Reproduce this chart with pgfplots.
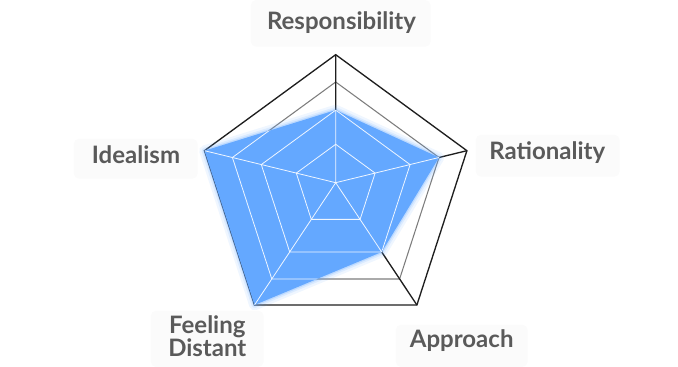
\documentclass[border=0pt]{standalone}
\usepackage{pgfplots}
\pgfplotsset{compat=1.18}
\usepackage{fontspec}
\setmainfont{Lato}
\definecolor{radarblue}{RGB}{100,168,255}
\definecolor{labelgray}{RGB}{90,90,90}
\definecolor{boxgray}{RGB}{251,251,251}
\definecolor{gridgray}{RGB}{125,125,125}
\definecolor{griddark}{RGB}{30,30,30}
\begin{document}
\begin{tikzpicture}[lbl/.style={font=\bfseries\fontsize{18}{21}\selectfont, text=labelgray, anchor=base, inner sep=0pt}]
\begin{axis}[hide axis, x=0.75pt, y=0.75pt,
  xmin=-335.7, xmax=342.3, ymin=-184.3, ymax=182.7,
  clip=false, unbounded coords=jump]
\path (axis cs:-335.7,-184.3) rectangle (axis cs:342.3,182.7);
% label boxes
\fill[boxgray, rounded corners=4pt] (axis cs:-85,136) rectangle (axis cs:95,182.7);
\fill[boxgray, rounded corners=4pt] (axis cs:-262,4) rectangle (axis cs:-138,44);
\fill[boxgray, rounded corners=4pt] (axis cs:140,6) rectangle (axis cs:284,48);
\fill[boxgray, rounded corners=4pt] (axis cs:-185,-184.3) rectangle (axis cs:-72,-128);
\fill[boxgray, rounded corners=4pt] (axis cs:60,-184.3) rectangle (axis cs:192,-142);
\node[lbl] at (axis cs:5.8,153.4) {Responsibility};
\node[lbl] at (axis cs:-199.7,19.4) {Idealism};
\node[lbl] at (axis cs:211.6,22.7) {Rationality};
\node[lbl] at (axis cs:126,-164.6) {Approach};
\node[lbl] at (axis cs:-128.4,-151.3) {Feeling};
\node[lbl] at (axis cs:-128.4,-174) {Distant};
% grid outside colours
\addplot[gridgray, line width=0.7pt, line join=miter] coordinates {(0,38.4) (39.4,9.6) (24.4,-36.7) (-24.4,-36.7) (-39.4,9.6)} -- cycle;
\addplot[gridgray, line width=0.7pt, line join=miter] coordinates {(0,72.6) (74.4,18.1) (46.0,-69.3) (-46.0,-69.3) (-74.4,18.1)} -- cycle;
\addplot[gridgray, line width=0.8pt, line join=miter] coordinates {(0,100.7) (103.3,25.2) (63.9,-96.3) (-63.9,-96.3) (-103.3,25.2)} -- cycle;
\addplot[griddark, line width=1pt, line join=miter] coordinates {(0,128) (131.2,32) (81.2,-122.3) (-81.2,-122.3) (-131.2,32)} -- cycle;
\addplot[griddark, line width=1pt] coordinates {(0,0) (0,128) (nan,nan) (0,0) (131.2,32) (nan,nan) (0,0) (81.2,-122.3) (nan,nan) (0,0) (-81.2,-122.3) (nan,nan) (0,0) (-131.2,32)};
% data glow
\addplot[radarblue, opacity=0.10, line width=8pt, line join=round] coordinates {(0,72.6) (103.3,25.2) (46.0,-69.3) (-81.2,-122.3) (-131.2,32)} -- cycle;
\addplot[radarblue, opacity=0.15, line width=4.5pt, line join=round] coordinates {(0,72.6) (103.3,25.2) (46.0,-69.3) (-81.2,-122.3) (-131.2,32)} -- cycle;
\addplot[radarblue, opacity=0.25, line width=2pt, line join=round] coordinates {(0,72.6) (103.3,25.2) (46.0,-69.3) (-81.2,-122.3) (-131.2,32)} -- cycle;
% data fill
\addplot[draw=none, fill=radarblue] coordinates {(0,72.6) (103.3,25.2) (46.0,-69.3) (-81.2,-122.3) (-131.2,32)} -- cycle;
% white grid inside the data area
\begin{scope}
\clip (axis cs:0,72.6) -- (axis cs:103.3,25.2) -- (axis cs:46.0,-69.3) -- (axis cs:-81.2,-122.3) -- (axis cs:-131.2,32) -- cycle;
\addplot[white!90!radarblue, line width=0.6pt, line join=miter] coordinates {(0,38.4) (39.4,9.6) (24.4,-36.7) (-24.4,-36.7) (-39.4,9.6)} -- cycle;
\addplot[white!90!radarblue, line width=0.6pt, line join=miter] coordinates {(0,72.6) (74.4,18.1) (46.0,-69.3) (-46.0,-69.3) (-74.4,18.1)} -- cycle;
\addplot[white!90!radarblue, line width=0.6pt, line join=miter] coordinates {(0,100.7) (103.3,25.2) (63.9,-96.3) (-63.9,-96.3) (-103.3,25.2)} -- cycle;
\addplot[white!90!radarblue, line width=0.6pt] coordinates {(0,0) (0,128) (nan,nan) (0,0) (131.2,32) (nan,nan) (0,0) (81.2,-122.3) (nan,nan) (0,0) (-81.2,-122.3) (nan,nan) (0,0) (-131.2,32)};
\end{scope}
\end{axis}
\end{tikzpicture}
\end{document}
